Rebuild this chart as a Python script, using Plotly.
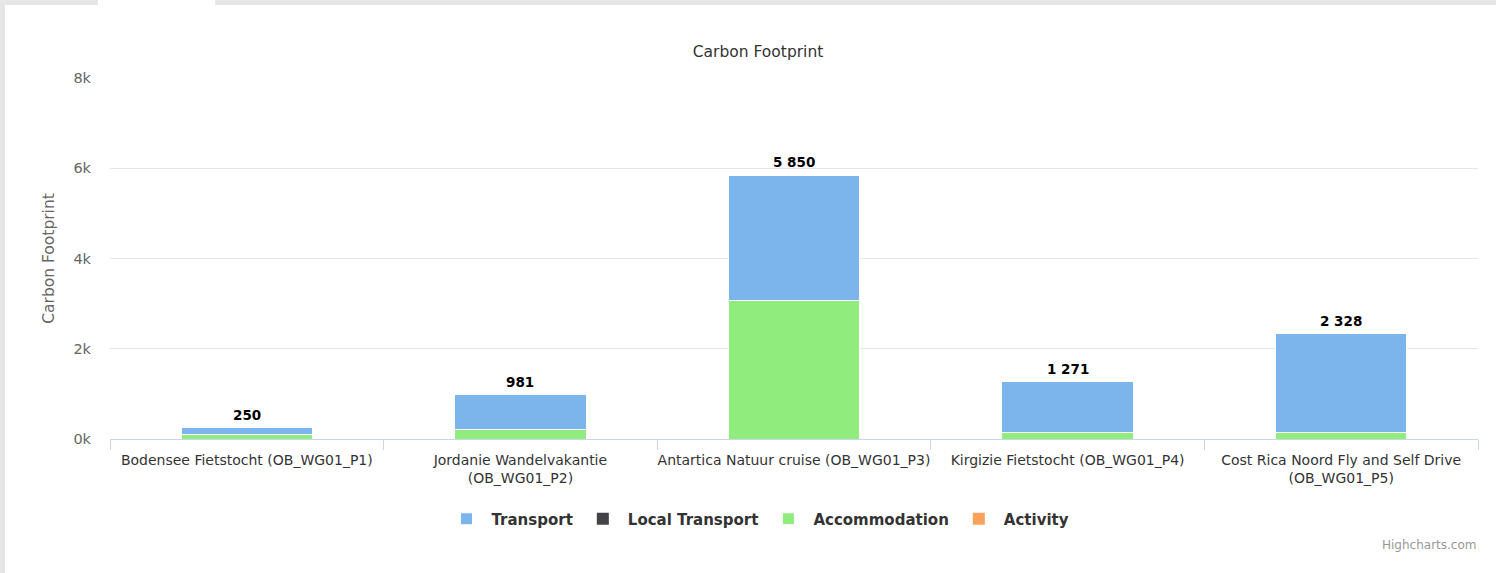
import plotly.graph_objects as go

categories = [
    "Bodensee Fietstocht (OB_WG01_P1)",
    "Jordanie Wandelvakantie<br>(OB_WG01_P2)",
    "Antartica Natuur cruise (OB_WG01_P3)",
    "Kirgizie Fietstocht (OB_WG01_P4)",
    "Cost Rica Noord Fly and Self Drive<br>(OB_WG01_P5)",
]
transport = [140, 761, 2770, 1116, 2173]
local_transport = [0, 0, 0, 0, 0]
accommodation = [110, 220, 3080, 155, 155]
activity = [0, 0, 0, 0, 0]

series_names = ["Transport", "Local Transport", "Accommodation", "Activity"]
series_colors = ["#7cb5ec", "#434348", "#90ed7d", "#f7a35c"]
series_values = [transport, local_transport, accommodation, activity]

y_tickvals = [0, 2000, 4000, 6000, 8000]
y_ticktext = ["0k", "2k", "4k", "6k", "8k"]

totals = [sum(v) for v in zip(*series_values)]
total_text = [f"{t:,}".replace(",", " ") for t in totals]

W, H = 1496, 573
ML, MR, MT, MB = 110, 18, 78, 134
PW = W - ML - MR
PH = H - MT - MB

def px_x(px):
    return (px - ML) / PW

def px_y(py):
    return (H - MB - py) / PH

FONT = "DejaVu Sans"

fig = go.Figure()
# Highcharts stacks the first series on top, so add in reverse order
for name, color, vals in reversed(list(zip(series_names, series_colors, series_values))):
    fig.add_trace(go.Bar(
        x=categories, y=vals, name=name,
        marker=dict(color=color, line=dict(color="white", width=1 if any(vals) else 0)),
        hoverinfo="x+y+name",
    ))

annotations = [
    dict(x=c, y=t, xref="x", yref="y", text=f"<b>{s}</b>", showarrow=False,
         yanchor="middle", yshift=13, font=dict(family=FONT, size=13.5, color="#000000"))
    for c, t, s in zip(categories, totals, total_text)
]
annotations.append(dict(text="Highcharts.com", xref="paper", yref="paper", x=1, xanchor="right",
                        y=px_y(545), yanchor="middle", showarrow=False,
                        font=dict(family=FONT, size=12, color="#999999")))

shapes = [
    # gray surrounding frame (top band and left edge)
    dict(type="rect", xref="paper", yref="paper", x0=px_x(0), x1=px_x(W), y0=px_y(0), y1=px_y(5),
         fillcolor="#e6e6e6", line=dict(width=0), layer="below"),
    dict(type="rect", xref="paper", yref="paper", x0=px_x(0), x1=px_x(5), y0=px_y(0), y1=px_y(H),
         fillcolor="#e6e6e6", line=dict(width=0), layer="below"),
    dict(type="rect", xref="paper", yref="paper", x0=px_x(98), x1=px_x(215), y0=px_y(0), y1=px_y(5),
         fillcolor="#ffffff", line=dict(width=0), layer="below"),
]

fig.update_layout(
    width=W, height=H,
    margin=dict(l=ML, r=MR, t=MT, b=MB, pad=0, autoexpand=False),
    paper_bgcolor="white",
    plot_bgcolor="rgba(0,0,0,0)",
    barmode="stack",
    bargap=0.52,
    font=dict(family=FONT, color="#666666"),
    title=dict(text="Carbon Footprint", x=758 / W, xanchor="center", y=1 - 52 / H, yanchor="middle",
               font=dict(family=FONT, size=15.5, color="#333333")),
    xaxis=dict(
        type="category", showgrid=False, showline=True, linecolor="#ccd6eb", linewidth=1,
        ticks="outside", tickson="boundaries", ticklen=10, tickcolor="#ccd6eb",
        tickfont=dict(family=FONT, size=14, color="#333333"), ticklabelstandoff=8,
        tickangle=0, automargin=False,
    ),
    yaxis=dict(
        range=[0, 8000], tickvals=y_tickvals, ticktext=y_ticktext,
        showgrid=True, gridcolor="#e6e6e6", gridwidth=1, zeroline=False, showline=False,
        tickfont=dict(family=FONT, size=14.5, color="#666666"), ticklabelstandoff=18,
        title=dict(text="Carbon Footprint", font=dict(family=FONT, size=15.5, color="#666666"), standoff=14),
        automargin=False,
    ),
    legend=dict(
        orientation="h", x=px_x(758), xanchor="center", y=px_y(519), yanchor="middle",
        traceorder="reversed", font=dict(family=FONT, size=15, color="#333333", weight="bold"),
        itemwidth=40, itemclick=False, itemdoubleclick=False,
    ),
    annotations=annotations,
    shapes=shapes,
)

fig.write_html("out.html", config={"displayModeBar": False},
               post_script="document.body.style.margin='0';document.body.style.padding='0';")
